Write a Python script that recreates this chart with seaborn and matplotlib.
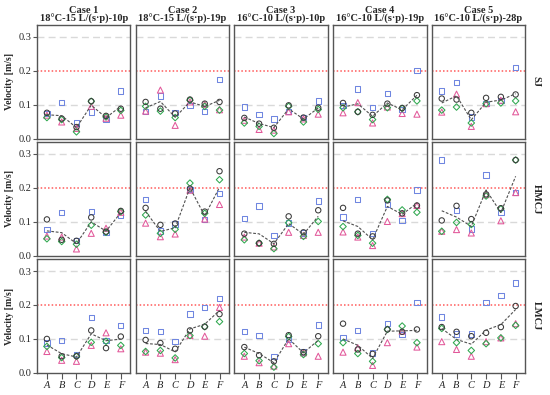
import numpy as np
import pandas as pd
import matplotlib
matplotlib.use("Agg")
import matplotlib.pyplot as plt
import seaborn as sns

# ---------------- data ----------------
CATEGORIES = ["A", "B", "C", "D", "E", "F"]
CASE_TITLES = [
    "Case 1\n18°C-15 L/(s·p)-10p",
    "Case 2\n18°C-15 L/(s·p)-19p",
    "Case 3\n16°C-10 L/(s·p)-10p",
    "Case 4\n16°C-10 L/(s·p)-19p",
    "Case 5\n16°C-10 L/(s·p)-28p",
]
ROWS = ["SJ", "HMCJ", "LMCJ"]
Y_TICKS = [0.0, 0.1, 0.2, 0.3]
Y_TICK_LABELS = ["0.0", "0.1", "0.2", "0.3"]

# SJ : one list of 6 values (A-F) per case
SJ_CIRCLE = [[0.076, 0.059, 0.034, 0.110, 0.067, 0.088],
             [0.108, 0.088, 0.074, 0.115, 0.103, 0.108],
             [0.061, 0.044, 0.032, 0.098, 0.062, 0.091],
             [0.105, 0.079, 0.070, 0.103, 0.090, 0.128],
             [0.118, 0.115, 0.076, 0.120, 0.123, 0.130]]
SJ_SQUARE = [[0.074, 0.106, 0.046, 0.078, 0.056, 0.140],
             [0.079, 0.125, 0.076, 0.097, 0.079, 0.174],
             [0.093, 0.071, 0.058, 0.079, 0.062, 0.111],
             [0.098, 0.146, 0.091, 0.133, 0.086, 0.200],
             [0.140, 0.165, 0.064, 0.103, 0.113, 0.209]]
SJ_DIAMOND = [[0.062, 0.056, 0.020, 0.110, 0.064, 0.083],
              [0.095, 0.081, 0.062, 0.113, 0.095, 0.084],
              [0.046, 0.036, 0.015, 0.095, 0.049, 0.086],
              [0.091, 0.079, 0.056, 0.091, 0.089, 0.111],
              [0.084, 0.093, 0.046, 0.103, 0.105, 0.111]]
SJ_TRIANGLE = [[0.069, 0.049, 0.030, 0.095, 0.060, 0.069],
               [0.081, 0.143, 0.039, 0.108, 0.101, 0.085],
               [0.054, 0.027, 0.025, 0.079, 0.058, 0.072],
               [0.076, 0.106, 0.046, 0.093, 0.074, 0.072],
               [0.078, 0.131, 0.036, 0.103, 0.113, 0.079]]

HMCJ_CIRCLE = [[0.107, 0.047, 0.044, 0.113, 0.071, 0.132],
               [0.141, 0.091, 0.095, 0.198, 0.130, 0.249],
               [0.065, 0.037, 0.035, 0.116, 0.069, 0.134],
               [0.141, 0.065, 0.057, 0.163, 0.125, 0.148],
               [0.104, 0.147, 0.108, 0.181, 0.140, 0.282]]
HMCJ_SQUARE = [[0.078, 0.128, 0.045, 0.130, 0.069, 0.118],
               [0.166, 0.073, 0.093, 0.196, 0.107, 0.183],
               [0.109, 0.147, 0.060, 0.097, 0.067, 0.161],
               [0.114, 0.165, 0.065, 0.151, 0.104, 0.194],
               [0.282, 0.133, 0.079, 0.238, 0.128, 0.186]]
HMCJ_DIAMOND = [[0.050, 0.042, 0.034, 0.090, 0.069, 0.130],
                [0.120, 0.066, 0.078, 0.214, 0.125, 0.224],
                [0.047, 0.037, 0.021, 0.097, 0.057, 0.101],
                [0.086, 0.060, 0.037, 0.166, 0.135, 0.128],
                [0.072, 0.098, 0.092, 0.176, 0.138, 0.282]]
HMCJ_TRIANGLE = [[0.058, 0.055, 0.020, 0.066, 0.081, 0.128],
                 [0.096, 0.056, 0.064, 0.193, 0.108, 0.151],
                 [0.055, 0.037, 0.026, 0.069, 0.060, 0.069],
                 [0.070, 0.055, 0.030, 0.101, 0.124, 0.148],
                 [0.072, 0.077, 0.067, 0.180, 0.103, 0.186]]

LMCJ_CIRCLE = [[0.100, 0.049, 0.049, 0.125, 0.073, 0.107],
               [0.097, 0.088, 0.071, 0.125, 0.136, 0.173],
               [0.076, 0.052, 0.034, 0.111, 0.061, 0.108],
               [0.145, 0.069, 0.056, 0.128, 0.121, 0.128],
               [0.135, 0.121, 0.108, 0.118, 0.135, 0.197]]
LMCJ_SQUARE = [[0.088, 0.095, 0.055, 0.164, 0.095, 0.139],
               [0.125, 0.122, 0.093, 0.173, 0.193, 0.219],
               [0.121, 0.110, 0.049, 0.098, 0.062, 0.141],
               [0.105, 0.125, 0.059, 0.146, 0.113, 0.208],
               [0.165, 0.115, 0.115, 0.208, 0.228, 0.265]]
LMCJ_DIAMOND = [[0.078, 0.045, 0.049, 0.090, 0.093, 0.081],
                [0.063, 0.066, 0.044, 0.110, 0.136, 0.151],
                [0.057, 0.036, 0.017, 0.107, 0.054, 0.086],
                [0.089, 0.057, 0.034, 0.128, 0.138, 0.089],
                [0.131, 0.089, 0.066, 0.086, 0.103, 0.140]]
LMCJ_TRIANGLE = [[0.063, 0.037, 0.034, 0.081, 0.118, 0.071],
                 [0.061, 0.058, 0.039, 0.110, 0.108, 0.193],
                 [0.049, 0.030, 0.020, 0.086, 0.059, 0.049],
                 [0.061, 0.074, 0.022, 0.089, 0.123, 0.076],
                 [0.092, 0.069, 0.049, 0.092, 0.103, 0.145]]

SERIES_BY_ROW = {
    "SJ": {"circle": SJ_CIRCLE, "square": SJ_SQUARE,
           "diamond": SJ_DIAMOND, "triangle": SJ_TRIANGLE},
    "HMCJ": {"circle": HMCJ_CIRCLE, "square": HMCJ_SQUARE,
             "diamond": HMCJ_DIAMOND, "triangle": HMCJ_TRIANGLE},
    "LMCJ": {"circle": LMCJ_CIRCLE, "square": LMCJ_SQUARE,
             "diamond": LMCJ_DIAMOND, "triangle": LMCJ_TRIANGLE},
}

# ---------------- style ----------------
STYLE = {
    "square":   dict(marker="s", color="#6f86e0", size=15),
    "triangle": dict(marker="^", color="#e2589a", size=19),
    "diamond":  dict(marker="D", color="#2fa84f", size=11),
    "circle":   dict(marker="o", color="#3a3a3a", size=15),
}
DRAW_ORDER = ["square", "triangle", "diamond", "circle"]

sns.set_theme(style="white")
plt.rcParams["font.family"] = ["Liberation Serif", "DejaVu Serif"]

fig, axes = plt.subplots(3, 5, figsize=(5.5, 3.95), dpi=100, sharex=True, sharey=True)
fig.subplots_adjust(left=0.067, right=0.955, top=0.937, bottom=0.056,
                    wspace=0.055, hspace=0.03)

for r, row in enumerate(ROWS):
    for c in range(5):
        ax = axes[r, c]
        frames = []
        for name in DRAW_ORDER:
            vals = SERIES_BY_ROW[row][name][c]
            frames.append(pd.DataFrame({
                "pos": np.arange(len(CATEGORIES)),
                "value": vals,
                "series": name,
            }))
        df = pd.concat(frames, ignore_index=True)

        # reference lines
        ax.axhline(0.1, color="#d9d9d9", lw=1.0, ls=(0, (5, 3)), zorder=0)
        ax.axhline(0.3, color="#d9d9d9", lw=1.0, ls=(0, (5, 3)), zorder=0)
        ax.axhline(0.2, color="#ff5a5a", lw=1.1, ls=(0, (1, 1.4)), zorder=0)

        for name in DRAW_ORDER:
            st = STYLE[name]
            sub = df[df["series"] == name]
            sns.scatterplot(data=sub, x="pos", y="value", ax=ax,
                            marker=st["marker"], s=st["size"],
                            color=st["color"], facecolor="none",
                            edgecolor=st["color"], linewidth=0.75,
                            zorder=3, legend=False)

        # mean over the four measurement series
        sns.lineplot(data=df, x="pos", y="value", ax=ax, estimator="mean",
                     errorbar=None, color="#505050", lw=0.8,
                     linestyle=(0, (2.5, 1.5)), zorder=4, legend=False)

        ax.set_xlim(-0.68, 5.65)
        ax.set_ylim(0, 0.335)
        ax.set_xlabel("")
        ax.set_ylabel("")
        ax.set_xticks(np.arange(len(CATEGORIES)))
        ax.set_xticklabels(CATEGORIES, fontstyle="italic", fontsize=7.5)
        ax.set_yticks(Y_TICKS)
        ax.set_yticklabels(Y_TICK_LABELS, fontsize=7.5)

        for sp in ax.spines.values():
            sp.set_color("#555555")
            sp.set_linewidth(1.0)

        ax.tick_params(axis="x", bottom=(r == 2), labelbottom=(r == 2),
                       direction="out", length=4, width=0.8, color="#555555",
                       pad=2)
        ax.tick_params(axis="y", left=(c == 0), labelleft=(c == 0),
                       direction="out", length=3, width=0.8, color="#555555",
                       pad=1)

        if r == 0:
            ax.set_title(CASE_TITLES[c], fontsize=7.5, fontweight="bold",
                         pad=2, linespacing=0.95)
        if c == 0:
            ax.set_ylabel("Velocity [m/s]", fontsize=7, fontweight="bold",
                          labelpad=3)
        if c == 4:
            ax.text(1.07, 0.5, row, transform=ax.transAxes, rotation=270,
                    va="center", ha="left", fontsize=7.5, fontweight="bold")

fig.savefig("out.png", dpi=100)
